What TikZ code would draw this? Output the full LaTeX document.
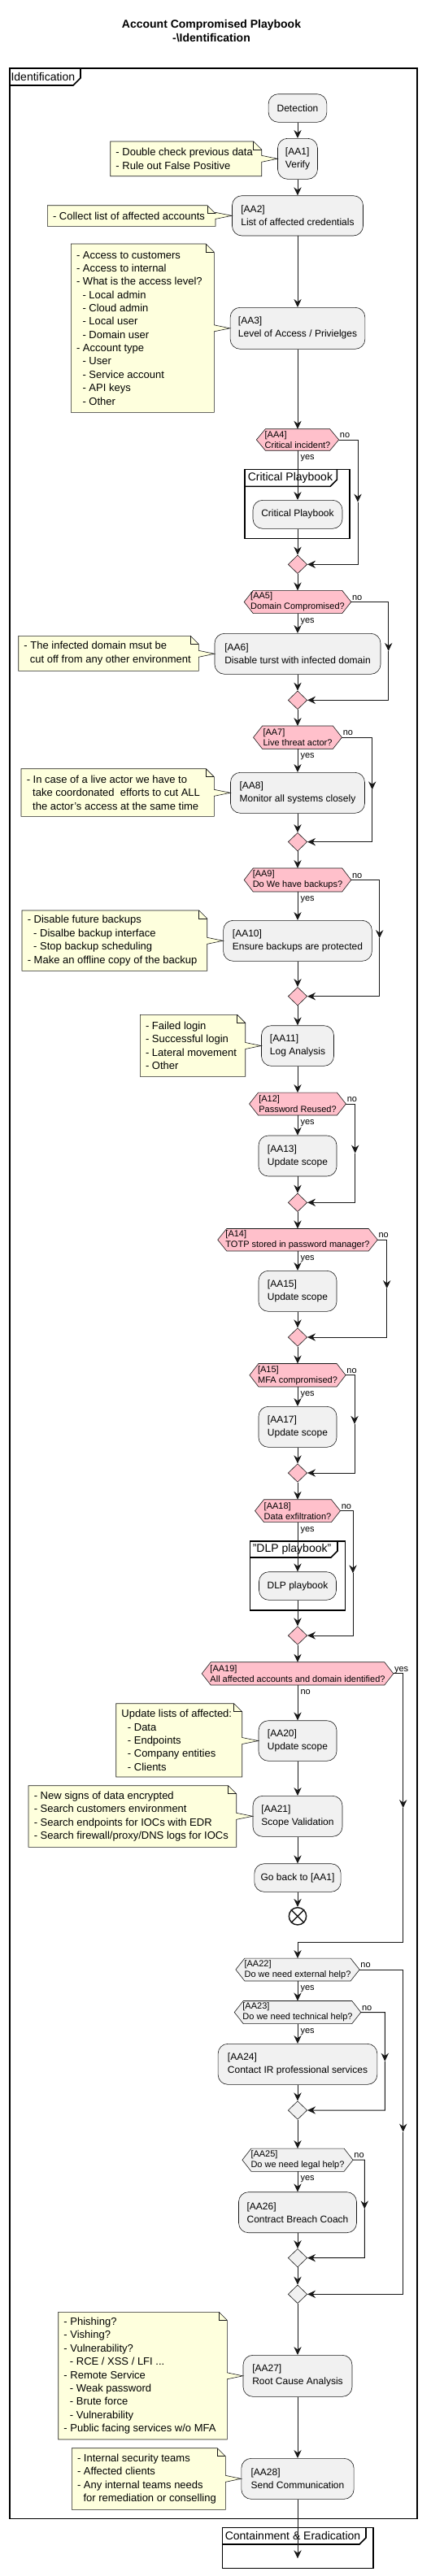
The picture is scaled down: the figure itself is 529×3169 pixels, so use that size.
\documentclass[tikz,border=0pt]{standalone}
\usepackage{fontspec}
\setmainfont{Liberation Sans}
\usetikzlibrary{arrows.meta,calc,shapes.geometric}
\definecolor{actfill}{HTML}{F1F1F1}
\definecolor{bordc}{HTML}{181818}
\definecolor{linec}{HTML}{181818}
\definecolor{pinkc}{HTML}{FFC0CB}
\definecolor{notefill}{HTML}{FEFFDD}
\newcommand\pind{\hspace*{5.6pt}}
\newcommand\pact[5]{\node[act, minimum width={(#4)*0.75pt}, minimum height={(#3-(#2))*0.75pt}] (#1) at (366,{(#2+#3)/2}) {#5};}
\newcommand\pdec[6]{%
  \node[inner sep=0pt, minimum width={(#2)*0.75pt}, minimum height={(#4-(#3))*0.75pt}] (#1) at (366,{(#3+#4)/2}) {};
  \draw[decb, fill=#5] (#1.west) -- ([xshift=8.25pt]#1.north west) -- ([xshift=-8.25pt]#1.north east) -- (#1.east) -- ([xshift=-8.25pt]#1.south east) -- ([xshift=8.25pt]#1.south west) -- cycle;
  \node[dtext] (#1t) at (#1.center) {#6};}
\newcommand\pmrg[3]{\node[merge, fill=#3] (#1) at (366,#2) {};}
\newcommand\pyes[2]{\node[lbl, anchor=base west] (#1yes) at ([xshift=2.5pt,yshift=-8.6pt]#1.south) {#2};}
\newcommand\pnob[3]{%
  \coordinate (#1xr) at (#3,0);
  \coordinate (#1c1) at (#1.east -| #1xr);
  \coordinate (#1c2) at (#2.east -| #1xr);
  \coordinate (#1m) at ($(#1c1)!0.5!(#1c2)$);
  \draw[flow] (#1.east) -- (#1c1) -- (#1m);
  \draw[flow] (#1m) -- (#1c2) -- (#2.east);
  \node[lbl, anchor=base west] (#1no) at ([xshift=0.8pt,yshift=1.8pt]#1.east) {no};}
\newcommand\pnote[7]{%
  \coordinate (#1x) at (#4,0);
  \draw[notes] (#2,#3) -- ({#4-10},#3) -- (#4,{#3+10}) -- ($(#6.west -| #1x)+(0,-4)$) -- (#6.west) -- ($(#6.west -| #1x)+(0,4)$) -- (#4,#5) -- (#2,#5) -- cycle;
  \draw[notes, fill=none] ({#4-10},#3) -- ({#4-10},{#3+10}) -- (#4,{#3+10});
  \node[ntext, anchor=west] (#1) at ({#2+6.5},{(#3+#5)/2}) {#7};}
\begin{document}
\begin{tikzpicture}[x=0.75pt,y=-0.75pt,
  act/.style={draw=bordc, fill=actfill, line width=0.45pt, rounded corners=9pt, inner sep=0pt, align=left, font=\fontsize{9}{12}\selectfont},
  decb/.style={draw=bordc, line width=0.45pt},
  dtext/.style={inner sep=0pt, align=left, font=\fontsize{8.25}{9.75}\selectfont},
  merge/.style={diamond, draw=bordc, line width=0.45pt, inner sep=0pt, minimum width=17.6pt, minimum height=17pt},
  lbl/.style={inner sep=0pt, font=\fontsize{8.25}{9.75}\selectfont},
  notes/.style={draw=bordc, fill=notefill, line width=0.45pt, line join=miter},
  ntext/.style={inner sep=0pt, align=left, font=\fontsize{9.75}{12.27}\selectfont},
  flow/.style={draw=linec, line width=0.75pt, -{Stealth[length=7.5pt,width=7pt,inset=2.5pt]}},
  frm/.style={draw=black, line width=1.2pt},
  tabl/.style={inner sep=0pt, anchor=west, font=\fontsize{10.5}{12}\selectfont},
  kill/.style={circle, draw=linec, line width=1.1pt, minimum size=16pt, inner sep=0pt}]
\useasboundingbox (0,0) rectangle (529,3169);
% title
\node[align=center, font=\fontsize{10.5}{12.75}\selectfont\bfseries] (title) at (260,38.5) {Account Compromised Playbook\\-\textbackslash Identification};
% frames
\draw[frm] (11.7,84) rectangle (513,3098.3);
\draw[frm] (11.7,105) -- (90,105) -- (99,96) -- (99,84);
\node[tabl] (fid) at (13.3,94.5) {Identification};
\draw[frm] (300.7,577.3) rectangle (430,662.3);
\draw[frm] (300.7,598.3) -- (406.3,598.3) -- (414.3,590.3) -- (414.3,577.3);
\node[tabl] (fcp) at (304.5,587.8) {Critical Playbook};
\draw[frm] (307.3,1895.7) rectangle (424.3,1980.7);
\draw[frm] (307.3,1916) -- (407,1916) -- (415,1908) -- (415,1895.7);
\node[tabl] (fdlp) at (310.5,1905.8) {"DLP playbook"};
\draw[frm] (273.3,3109.3) rectangle (459,3159.3);
\draw[frm] (273.3,3130) -- (442,3130) -- (450,3122) -- (450,3109.3);
\node[tabl] (fce) at (276.5,3119.6) {Containment \& Eradication};
% activities
\pact{Det}{115.7}{150.3}{71.7}{Detection}
\pact{AA1}{170.3}{220.3}{49}{[AA1]\\Verify}
\pact{AA2}{240.7}{290}{161}{[AA2]\\List of affected credentials}
\pact{AA3}{378.3}{429.3}{165.7}{[AA3]\\Level of Access / Privielges}
\pdec{A4}{100.7}{528}{554}{pinkc}{[AA4]\\Critical incident?}
\pact{CP}{615.3}{650.3}{110}{Critical Playbook}
\pmrg{M1}{694.3}{pinkc}
\pdec{A5}{131}{726.7}{754.3}{pinkc}{[AA5]\\Domain Compromised?}
\pact{AA6}{779.3}{829.3}{204}{[AA6]\\Disable turst with infected domain}
\pmrg{M2}{861.3}{pinkc}
\pdec{A7}{108.3}{893.3}{921}{pinkc}{[AA7]\\Live threat actor?}
\pact{AA8}{950.3}{1000.3}{165}{[AA8]\\Monitor all systems closely}
\pmrg{M3}{1035.7}{pinkc}
\pdec{A9}{131}{1068.3}{1096.7}{pinkc}{[AA9]\\Do We have backups?}
\pact{AA10}{1132.3}{1182.3}{182.7}{[AA10]\\Ensure backups are protected}
\pmrg{M4}{1225.7}{pinkc}
\pact{AA11}{1261.7}{1311.3}{89}{[AA11]\\Log Analysis}
\pdec{A12}{118.3}{1344.3}{1371.7}{pinkc}{[A12]\\Password Reused?}
\pact{AA13}{1397}{1447}{96}{[AA13]\\Update scope}
\pmrg{M5}{1479.3}{pinkc}
\pdec{A14}{196}{1511.7}{1538.7}{pinkc}{[A14]\\TOTP stored in password manager?}
\pact{AA15}{1563.3}{1613.3}{96}{[AA15]\\Update scope}
\pmrg{M6}{1645}{pinkc}
\pdec{A15}{117.6}{1677.7}{1705.7}{pinkc}{[A15]\\MFA compromised?}
\pact{AA17}{1730.3}{1780.3}{96}{[AA17]\\Update scope}
\pmrg{M7}{1812}{pinkc}
\pdec{A18}{104.4}{1845}{1872.3}{pinkc}{[AA18]\\Data exfiltration?}
\pact{DLP}{1933.7}{1968.3}{95}{DLP playbook}
\pmrg{M8}{2012}{pinkc}
\pdec{A19}{235}{2045}{2072.7}{pinkc}{[AA19]\\All affected accounts and domain identified?}
\pact{AA20}{2116.7}{2166.3}{96}{[AA20]\\Update scope}
\pact{AA21}{2209.3}{2259.3}{110}{[AA21]\\Scope Validation}
\pact{GB}{2292.7}{2327.3}{106.3}{Go back to [AA1]}
\node[kill] (K) at (366,2357.3) {};
\draw[draw=linec, line width=1.1pt] (K.45) -- (K.225) (K.135) -- (K.315);
\pdec{A22}{151.7}{2409.3}{2436.7}{actfill}{[AA22]\\Do we need external help?}
\pdec{A23}{155}{2461.7}{2489.3}{actfill}{[AA23]\\Do we need technical help?}
\pact{AA24}{2514.3}{2564.3}{195.7}{[AA24]\\Contact IR professional services}
\pmrg{G1}{2596}{actfill}
\pdec{A25}{135.6}{2643.3}{2671}{actfill}{[AA25]\\Do we need legal help?}
\pact{AA26}{2696.7}{2746.7}{145}{[AA26]\\Contract Breach Coach}
\pmrg{G2}{2777.7}{actfill}
\pmrg{G3}{2822.3}{actfill}
\pact{AA27}{2897.3}{2948.3}{134}{[AA27]\\Root Cause Analysis}
\pact{AA28}{3024.3}{3074.3}{138.3}{[AA28]\\Send Communication}
\coordinate (End) at (366,3147.3);
% notes
\pnote{N1}{135.7}{174}{321.7}{216.7}{AA1}{- Double check previous data\\- Rule out False Positive}
\pnote{N2}{58.3}{252.7}{265}{278.3}{AA2}{- Collect list of affected accounts}
\pnote{N3}{87.3}{300}{263.3}{507.3}{AA3}{- Access to customers\\- Access to internal\\- What is the access level?\\\pind- Local admin\\\pind- Cloud admin\\\pind- Local user\\\pind- Domain user\\- Account type\\\pind- User\\\pind- Service account\\\pind- API keys\\\pind- Other}
\pnote{N6}{22.7}{782.3}{244.3}{825.3}{AA6}{- The infected domain msut be\\\pind cut off from any other environment}
\pnote{N8}{26}{945.7}{263.3}{1004.3}{AA8}{- In case of a live actor we have to\\\pind take coordonated~ efforts to cut ALL\\\pind the actor's access at the same time}
\pnote{N10}{27}{1120}{254.7}{1194.3}{AA10}{- Disable future backups\\\pind- Disalbe backup interface\\\pind- Stop backup scheduling\\- Make an offline copy of the backup}
\pnote{N11}{172.3}{1248.3}{301.7}{1324.3}{AA11}{- Failed login\\- Successful login\\- Lateral movement\\- Other}
\pnote{N20}{142.7}{2095.7}{297.7}{2186}{AA20}{Update lists of affected:\\\pind- Data\\\pind- Endpoints\\\pind- Company entities\\\pind- Clients}
\pnote{N21}{35}{2196.7}{290.7}{2272.3}{AA21}{- New signs of data encrypted\\- Search customers environment\\- Search endpoints for IOCs with EDR\\- Search firewall/proxy/DNS logs for IOCs}
\pnote{N27}{71.7}{2844.3}{279.3}{3001}{AA27}{- Phishing?\\- Vishing?\\- Vulnerability?\\\pind- RCE / XSS / LFI ...\\- Remote Service\\\pind- Weak password\\\pind- Brute force\\\pind- Vulnerability\\- Public facing services w/o MFA}
\pnote{N28}{88.3}{3011.7}{277.3}{3087.3}{AA28}{- Internal security teams\\- Affected clients\\- Any internal teams needs\\\pind for remediation or conselling}
% main flow
\draw[flow] (Det) -- (AA1);
\draw[flow] (AA1) -- (AA2);
\draw[flow] (AA2) -- (AA3);
\draw[flow] (AA3) -- (A4);
\draw[flow] (A4) -- (CP);
\draw[flow] (CP) -- (M1);
\draw[flow] (M1) -- (A5);
\draw[flow] (A5) -- (AA6);
\draw[flow] (AA6) -- (M2);
\draw[flow] (M2) -- (A7);
\draw[flow] (A7) -- (AA8);
\draw[flow] (AA8) -- (M3);
\draw[flow] (M3) -- (A9);
\draw[flow] (A9) -- (AA10);
\draw[flow] (AA10) -- (M4);
\draw[flow] (M4) -- (AA11);
\draw[flow] (AA11) -- (A12);
\draw[flow] (A12) -- (AA13);
\draw[flow] (AA13) -- (M5);
\draw[flow] (M5) -- (A14);
\draw[flow] (A14) -- (AA15);
\draw[flow] (AA15) -- (M6);
\draw[flow] (M6) -- (A15);
\draw[flow] (A15) -- (AA17);
\draw[flow] (AA17) -- (M7);
\draw[flow] (M7) -- (A18);
\draw[flow] (A18) -- (DLP);
\draw[flow] (DLP) -- (M8);
\draw[flow] (M8) -- (A19);
\draw[flow] (A19) -- (AA20);
\draw[flow] (AA20) -- (AA21);
\draw[flow] (AA21) -- (GB);
\draw[flow] (GB) -- (K);
\draw[flow] (A22) -- (A23);
\draw[flow] (A23) -- (AA24);
\draw[flow] (AA24) -- (G1);
\draw[flow] (G1) -- (A25);
\draw[flow] (A25) -- (AA26);
\draw[flow] (AA26) -- (G2);
\draw[flow] (G2) -- (G3);
\draw[flow] (G3) -- (AA27);
\draw[flow] (AA27) -- (AA28);
\draw[flow] (AA28) -- (End);
% yes labels
\pyes{A4}{yes}\pyes{A5}{yes}\pyes{A7}{yes}\pyes{A9}{yes}\pyes{A12}{yes}\pyes{A14}{yes}
\pyes{A15}{yes}\pyes{A18}{yes}\pyes{A19}{no}\pyes{A22}{yes}\pyes{A23}{yes}\pyes{A25}{yes}
% no branches
\pnob{A4}{M1}{440}
\pnob{A5}{M2}{477.7}
\pnob{A7}{M3}{457.7}
\pnob{A9}{M4}{466.7}
\pnob{A12}{M5}{436.7}
\pnob{A14}{M6}{475.7}
\pnob{A15}{M7}{436}
\pnob{A18}{M8}{434}
\pnob{A22}{G3}{495.7}
\pnob{A23}{G1}{473.3}
\pnob{A25}{G2}{448.3}
% AA19 yes branch
\coordinate (A19xr) at (495.7,0);
\coordinate (A19c1) at (A19.east -| A19xr);
\coordinate (A19c2) at (495.7,2389.3);
\coordinate (A19c3) at (366,2389.3);
\coordinate (A19m) at ($(A19c1)!0.5!(A19c2)$);
\draw[flow] (A19.east) -- (A19c1) -- (A19m);
\draw[flow] (A19m) -- (A19c2) -- (A19c3) -- (A22.north);
\node[lbl, anchor=base west] (A19y) at ([xshift=0.8pt,yshift=1.8pt]A19.east) {yes};
\end{tikzpicture}
\end{document}
